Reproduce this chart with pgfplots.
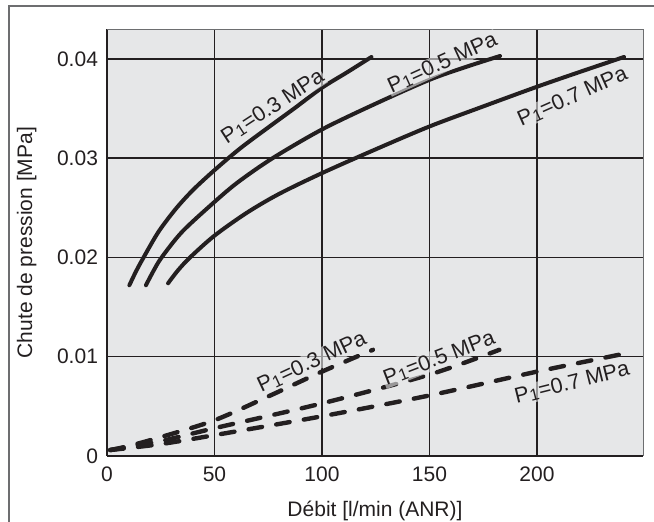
\documentclass[border=0pt]{standalone}
\usepackage{fontspec}
\setmainfont{Liberation Sans}
\usepackage{pgfplots}
\pgfplotsset{compat=1.18}
\definecolor{bg}{HTML}{E6E7E8}
\definecolor{ink}{HTML}{231F20}
\definecolor{framec}{HTML}{6D6E70}
\newcommand\Pone{P\kern0.2pt\raisebox{-0.18ex}{\fontsize{8.3}{8.3}\selectfont 1}\kern0.2pt}
\begin{document}
\begin{tikzpicture}
\useasboundingbox (0,0) rectangle (327pt,261pt);
\draw[framec, line width=0.7pt] (4.4pt,-1pt) -- (4.4pt,258pt) -- (328pt,258pt);
\begin{axis}[
  at={(53.5pt,33pt)}, anchor=south west,
  width=268pt, height=213.35pt, scale only axis,
  xmin=0, xmax=249.3, ymin=0, ymax=0.04299,
  axis background/.style={fill=bg},
  axis x line*=bottom, axis y line*=left,
  axis line style={ink, line width=1.1pt, -},
  xtick={0,50,100,150,200},
  ytick={0,0.01,0.02,0.03,0.04},
  yticklabels={0,0.01,0.02,0.03,0.04},
  scaled y ticks=false,
  major tick length=0pt,
  grid=major,
  grid style={ink, line width=0.75pt},
  tick label style={font=\fontsize{10.5}{12}\selectfont, text=ink},
  /pgf/number format/assume math mode=true,
  xticklabel style={yshift=-2pt},
  yticklabel style={xshift=-1pt},
  xlabel={Débit [l/min (ANR)]},
  ylabel={Chute de pression [MPa]},
  label style={font=\fontsize{10.5}{12}\selectfont, text=ink},
  xlabel style={at={(axis description cs:0.5,-0.129)}, anchor=center},
  ylabel style={at={(axis description cs:-0.1497,0.5)}, anchor=center, rotate=0},
  clip=false,
]
\draw[framec, line width=0.5pt] (rel axis cs:0,1) -- (rel axis cs:1,1) -- (rel axis cs:1,0);
% solid curves
\addplot[ink, line width=2pt, smooth, line cap=round] coordinates {
(10.4,0.0172) (13.5,0.0186) (17,0.0200) (24,0.0226) (32,0.0249) (40,0.0268) (50,0.0288) (62,0.0310) (75,0.0331) (87,0.0350) (100,0.0371) (112,0.0387) (123,0.0402)};
\addplot[ink, line width=2pt, smooth, line cap=round] coordinates {
(18.1,0.0172) (21.5,0.0186) (25.4,0.0200) (35,0.0226) (50,0.0256) (61,0.0276) (77,0.0300) (100,0.0329) (125,0.0355) (150,0.0379) (167,0.0392) (182.8,0.0403)};
\addplot[ink, line width=2pt, smooth, line cap=round] coordinates {
(28.4,0.0174) (33,0.0187) (38.6,0.0200) (50,0.0222) (65,0.0245) (80,0.0264) (100,0.0285) (125,0.0309) (150,0.0332) (173.5,0.0351) (200,0.0372) (220,0.0387) (240.5,0.0402)};
% dashed lines
\addplot[ink, line width=2.2pt, smooth, line cap=round, dash pattern=on 6.8pt off 7.2pt] coordinates {
(1.5,0.0006) (10,0.0010) (25,0.0019) (50,0.0036) (75,0.0060) (100,0.0085) (123.7,0.0107)};
\addplot[ink, line width=2.2pt, smooth, line cap=round, dash pattern=on 6.8pt off 7.2pt] coordinates {
(1.5,0.0006) (25,0.0015) (50,0.0028) (100,0.0053) (150,0.0082) (182.5,0.0107)};
\addplot[ink, line width=2.2pt, smooth, line cap=round, dash pattern=on 6.8pt off 7.2pt] coordinates {
(1.5,0.0006) (25,0.0012) (50,0.0021) (100,0.0040) (150,0.0061) (200,0.0085) (240.5,0.0103)};
% labels
\begin{scope}[every node/.style={font=\fontsize{10.8}{12}\selectfont, text=ink, fill=bg, fill opacity=0.6, text opacity=1, inner sep=0.6pt}]
\node[rotate=33] at (axis cs:77,0.0352) {\Pone=0.3 MPa};
\node[rotate=24.5] at (axis cs:156,0.0396) {\Pone=0.5 MPa};
\node[rotate=24] at (axis cs:216.5,0.0362) {\Pone=0.7 MPa};
\node[rotate=25] at (axis cs:95.3,0.00947) {\Pone=0.3 MPa};
\node[rotate=21] at (axis cs:154.5,0.00985) {\Pone=0.5 MPa};
\node[rotate=14] at (axis cs:216.3,0.00736) {\Pone=0.7 MPa};
\end{scope}
\end{axis}
\end{tikzpicture}
\end{document}
